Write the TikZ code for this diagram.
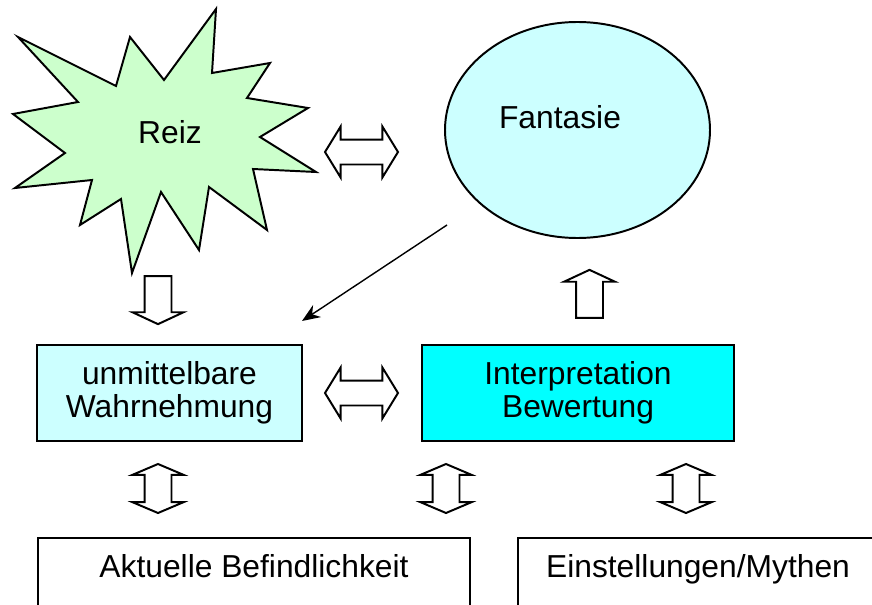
\documentclass[tikz,border=0pt]{standalone}
\usepackage{fontspec}
\setmainfont{Liberation Sans}
\usetikzlibrary{%
  arrows.meta,%
  shapes.geometric,% wg. ellipse
  shapes.arrows,% block arrows
  positioning%
}
\definecolor{reizgreen}{HTML}{CCFFCC}
\definecolor{palecyan}{HTML}{CCFFFF}
\definecolor{fullcyan}{HTML}{00FFFF}

\begin{document}
\begin{tikzpicture}[
  x=0.25mm, y=-0.25mm,
  font=\fontsize{22.6}{23.5}\selectfont, line width=1.4pt, line join=miter,
  >={Stealth[length=4.5mm,width=3.6mm]},
  box/.style={rectangle, draw=black, align=center, inner sep=0pt,
    minimum height=24mm},
  lowbox/.style={rectangle, draw=black, anchor=north west, inner sep=0pt,
    text height=10mm, text depth=25mm},
  hdouble/.style={double arrow, draw=black, fill=white,
    inner xsep=0pt, inner ysep=2.875mm, minimum height=18.25mm,
    double arrow head extend=3.25mm, double arrow tip angle=117},
  vdouble/.style={double arrow, draw=black, fill=white, rotate=90,
    inner xsep=0pt, inner ysep=3.125mm, minimum height=12.25mm,
    double arrow head extend=3mm, double arrow tip angle=134},
  block/.style={single arrow, draw=black, fill=white,
    inner xsep=0pt, inner ysep=3.125mm, minimum height=12mm,
    single arrow head extend=3mm, single arrow tip angle=130}
]
\useasboundingbox (0,0) rectangle (872,605);
\clip (0,0) rectangle (872,605);

% Reiz
\filldraw[fill=reizgreen] (18,37) -- (116,86) -- (130,37) -- (164,80)
  -- (216,9) -- (212,73) -- (270,63) -- (247,98) -- (308,108) -- (260,137)
  -- (316,172) -- (253,169) -- (267,230) -- (209,187) -- (199,250)
  -- (161,192) -- (132,273) -- (121,199) -- (80,225) -- (92,180)
  -- (15,188) -- (65,153) -- (13,114) -- (78,102) -- cycle;
\node[anchor=base] (reiz) at (170,143) {Reiz};

% Fantasie
\node[ellipse, draw=black, fill=palecyan, inner sep=0pt,
  minimum width=66.25mm, minimum height=54mm] (fant) at (577.5,130) {};
\node[anchor=base] (fant-txt) at (560,128) {Fantasie};

\node[box, fill=palecyan, minimum width=66.25mm] (wahr) at (169.5,393)
  {unmittelbare\\Wahrnehmung};
\node[box, fill=fullcyan, minimum width=78mm] (interp) at (578,393)
  {Interpretation\\Bewertung};

\node[lowbox, minimum width=108mm] (befind) at (37,537) {Aktuelle Befindlichkeit};
\node[lowbox, minimum width=90mm] (einst) at (517,537) {Einstellungen/Mythen};

% block arrows
\node[hdouble] (reiz-fant) at (361.5,152) {};
\node[hdouble] (wahr-interp) at (361.5,393) {};
\node[block, rotate=-90] (reiz-wahr) at (158,297) {};
\node[block, rotate=90] (interp-fant) at (589.5,297) {};
\node[vdouble] (wahr-befind) at (158,488.5) {};
\node[vdouble] (interp-befind) at (446,488.5) {};
\node[vdouble] (interp-einst) at (686,488.5) {};

% thin arrow
\coordinate (fant-tail) at (447,225);
\coordinate (wahr-head) at (302,321);
\draw[->, line width=1pt] (fant-tail) -- (wahr-head);
\end{tikzpicture}
\end{document}
